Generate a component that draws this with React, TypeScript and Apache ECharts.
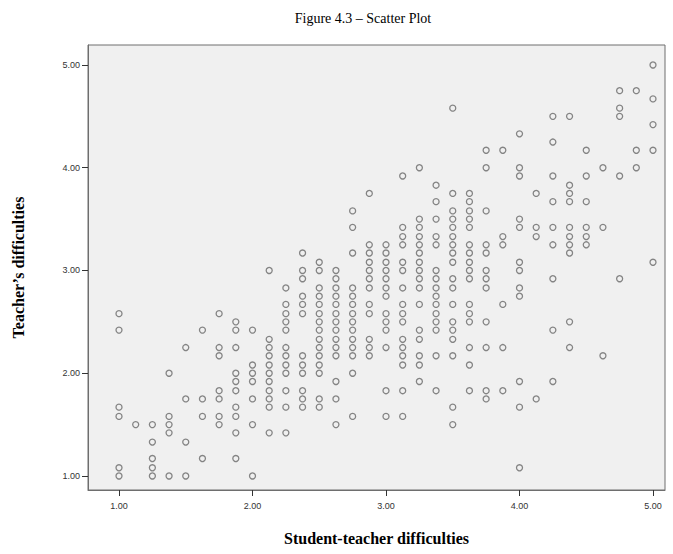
import React, { useEffect, useRef } from "react";
import * as echarts from "echarts";

// x positions (student-teacher difficulties), one column per value
const xColumns = [
  1.0, 1.125, 1.25, 1.375, 1.5, 1.625, 1.75, 1.875,
  2.0, 2.125, 2.25, 2.375, 2.5, 2.625, 2.75, 2.875,
  3.0, 3.125, 3.25, 3.375, 3.5, 3.625, 3.75, 3.875,
  4.0, 4.125, 4.25, 4.375, 4.5, 4.625, 4.75, 4.875, 5.0,
];

// teacher's difficulties observed in each column
const yByColumn = [
  [2.58, 2.42, 1.67, 1.58, 1.08, 1.0],
  [1.5],
  [1.5, 1.33, 1.17, 1.08, 1.0],
  [2.0, 1.58, 1.5, 1.42, 1.0],
  [2.25, 1.75, 1.33, 1.0],
  [2.42, 1.75, 1.58, 1.17],
  [2.58, 2.25, 2.17, 1.83, 1.75, 1.58, 1.5],
  [2.5, 2.42, 2.25, 2.0, 1.92, 1.83, 1.67, 1.58, 1.42, 1.17],
  [2.42, 2.08, 2.0, 1.92, 1.75, 1.5, 1.0],
  [3.0, 2.33, 2.25, 2.17, 2.08, 2.0, 1.92, 1.83, 1.75, 1.67, 1.42],
  [2.83, 2.67, 2.58, 2.5, 2.42, 2.25, 2.17, 2.08, 2.0, 1.83, 1.67, 1.42],
  [3.17, 3.0, 2.92, 2.75, 2.67, 2.58, 2.17, 2.08, 2.0, 1.83, 1.75, 1.67],
  [3.08, 3.0, 2.83, 2.75, 2.67, 2.58, 2.5, 2.42, 2.33, 2.25, 2.17, 2.08, 2.0, 1.75, 1.67],
  [3.0, 2.92, 2.83, 2.75, 2.67, 2.58, 2.5, 2.42, 2.33, 2.25, 2.17, 1.92, 1.75, 1.5],
  [3.58, 3.42, 3.17, 2.83, 2.75, 2.67, 2.58, 2.5, 2.42, 2.33, 2.25, 2.17, 2.0, 1.58],
  [3.75, 3.25, 3.17, 3.08, 3.0, 2.92, 2.83, 2.67, 2.58, 2.33, 2.25, 2.17],
  [3.25, 3.17, 3.08, 3.0, 2.92, 2.83, 2.75, 2.58, 2.5, 2.42, 2.25, 1.83, 1.58],
  [3.92, 3.42, 3.33, 3.25, 3.08, 3.0, 2.83, 2.67, 2.58, 2.5, 2.33, 2.25, 2.17, 2.08, 1.83, 1.58],
  [4.0, 3.5, 3.42, 3.33, 3.25, 3.17, 3.08, 3.0, 2.92, 2.83, 2.67, 2.42, 2.33, 2.17, 2.08, 1.92],
  [3.83, 3.67, 3.5, 3.33, 3.25, 3.0, 2.92, 2.83, 2.75, 2.67, 2.58, 2.5, 2.42, 2.17, 1.83],
  [4.58, 3.75, 3.58, 3.5, 3.42, 3.33, 3.25, 3.17, 3.08, 2.92, 2.83, 2.67, 2.5, 2.42, 2.33, 2.17, 1.67, 1.5],
  [3.75, 3.67, 3.58, 3.5, 3.42, 3.25, 3.17, 3.08, 3.0, 2.92, 2.67, 2.58, 2.5, 2.25, 2.08, 1.83],
  [4.17, 4.0, 3.58, 3.25, 3.17, 3.0, 2.92, 2.83, 2.5, 2.25, 1.83, 1.75],
  [4.17, 3.33, 3.25, 2.67, 2.25, 1.83],
  [4.33, 4.0, 3.92, 3.5, 3.42, 3.08, 3.0, 2.83, 2.75, 1.92, 1.67, 1.08],
  [3.75, 3.42, 3.33, 1.75],
  [4.5, 4.25, 3.92, 3.67, 3.42, 3.25, 2.92, 2.42, 1.92],
  [4.5, 3.83, 3.75, 3.67, 3.42, 3.33, 3.25, 3.17, 2.5, 2.25],
  [4.17, 3.92, 3.67, 3.42, 3.33, 3.25],
  [4.0, 3.42, 2.17],
  [4.75, 4.58, 4.5, 3.92, 2.92],
  [4.75, 4.17, 4.0],
  [5.0, 4.67, 4.42, 4.17, 3.08],
];

const tickValues = [1, 2, 3, 4, 5];

const titleText = "Figure 4.3 \u2013 Scatter Plot";
const xName = "Student-teacher difficulties";
const yName = "Teacher\u2019s difficulties";

export default function App() {
  const ref = useRef<HTMLDivElement>(null);

  useEffect(() => {
    if (!ref.current) return;
    const chart = echarts.init(ref.current, undefined, { renderer: "svg" });

    const points: number[][] = [];
    xColumns.forEach((x, i) => {
      yByColumn[i].forEach((y) => points.push([x, y]));
    });

    const tickLabel = {
      customValues: tickValues,
      formatter: (v: number) => v.toFixed(2),
      fontFamily: '"Liberation Sans", Arial, sans-serif',
      fontSize: 9,
      color: "#333",
    };

    chart.setOption({
      animation: false,
      backgroundColor: "#ffffff",
      graphic: [
        {
          type: "text",
          x: 363,
          y: 18,
          style: {
            text: titleText,
            font: '14px "Liberation Serif", "Times New Roman", serif',
            fill: "#000",
            textAlign: "center",
            textVerticalAlign: "middle",
          },
        },
      ],
      grid: {
        left: 88,
        top: 45,
        right: 8,
        bottom: 64,
        show: true,
        backgroundColor: "#f0f0f0",
        borderColor: "#6e6e6e",
        borderWidth: 1,
      },
      xAxis: {
        type: "value",
        min: 0.7678,
        max: 5.0899,
        name: xName,
        nameLocation: "middle",
        nameGap: 40,
        nameTextStyle: {
          fontFamily: '"Liberation Serif", "Times New Roman", serif',
          fontWeight: "bold",
          fontSize: 16,
          color: "#000",
        },
        axisLine: { show: true, lineStyle: { color: "#6e6e6e", width: 1 } },
        axisTick: {
          show: true,
          customValues: tickValues,
          length: 6,
          lineStyle: { color: "#333" },
        },
        axisLabel: { ...tickLabel, margin: 11 },
        splitLine: { show: false },
      },
      yAxis: {
        type: "value",
        min: 0.8637,
        max: 5.1946,
        name: yName,
        nameLocation: "middle",
        nameGap: 62,
        nameRotate: 90,
        nameTextStyle: {
          fontFamily: '"Liberation Serif", "Times New Roman", serif',
          fontWeight: "bold",
          fontSize: 16,
          color: "#000",
        },
        axisLine: { show: true, lineStyle: { color: "#6e6e6e", width: 1 } },
        axisTick: {
          show: true,
          customValues: tickValues,
          length: 6,
          lineStyle: { color: "#333" },
        },
        axisLabel: { ...tickLabel, margin: 8 },
        splitLine: { show: false },
      },
      series: [
        {
          type: "scatter",
          data: points,
          symbol: "circle",
          symbolSize: 6,
          itemStyle: {
            color: "rgba(0,0,0,0)",
            borderColor: "rgba(70,70,70,0.8)",
            borderWidth: 1.3,
          },
          emphasis: { disabled: true },
        },
      ],
    });

    return () => chart.dispose();
  }, []);

  return (
    <div
      ref={ref}
      style={{ position: "fixed", left: 0, top: 0, width: 673, height: 554 }}
    />
  );
}
